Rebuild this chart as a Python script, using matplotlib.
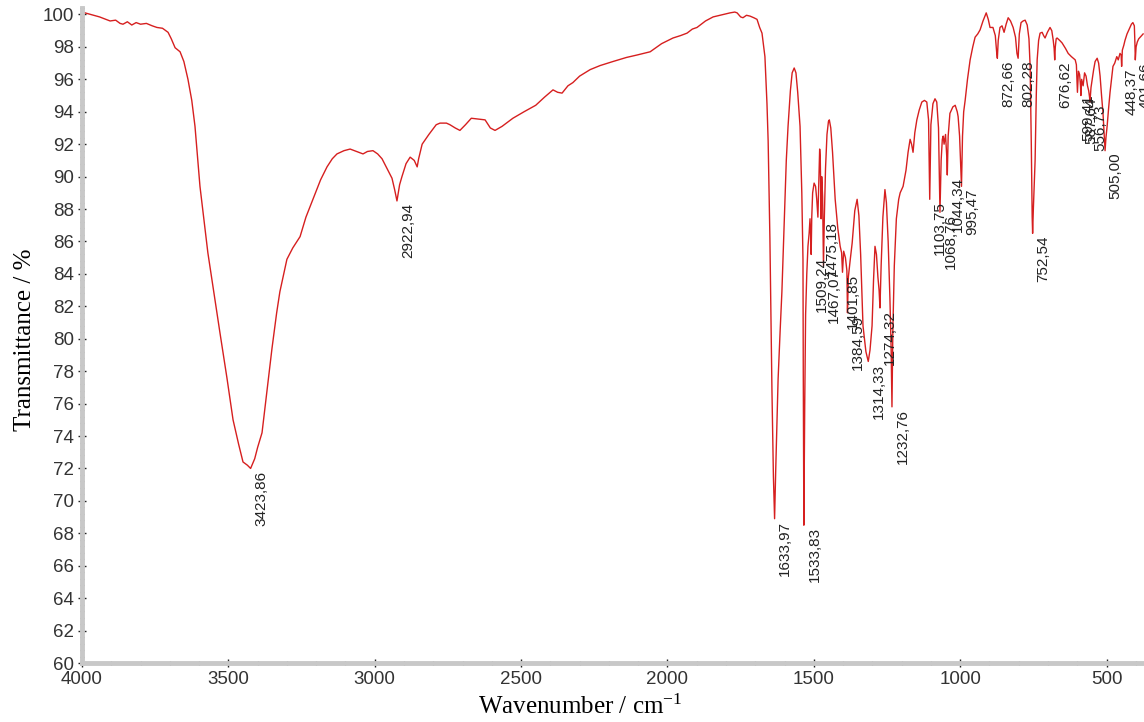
import numpy as np
import matplotlib.pyplot as plt
from matplotlib.ticker import MultipleLocator

# spectrum (wavenumber / cm-1, transmittance / %)
wavenumber = [
    4000, 3970, 3940, 3904, 3885, 3870, 3860, 3845, 3830, 3815, 3800, 3780, 3760, 3744, 3725,
    3706, 3695, 3682, 3665, 3652, 3638, 3625, 3614, 3597, 3570, 3550, 3529, 3505, 3484, 3465,
    3450, 3435, 3424, 3410, 3400, 3385, 3370, 3351, 3335, 3324, 3300, 3280, 3255, 3235, 3211,
    3185, 3163, 3145, 3129, 3105, 3084, 3062, 3040, 3025, 3006, 2990, 2975, 2955, 2941, 2932,
    2924, 2915, 2907, 2893, 2879, 2865, 2855, 2850, 2838, 2815, 2790, 2777, 2755, 2743, 2725,
    2709, 2690, 2670, 2645, 2623, 2605, 2589, 2565, 2528, 2490, 2450, 2420, 2391, 2375, 2360,
    2340, 2323, 2300, 2264, 2230, 2186, 2140, 2104, 2059, 2020, 1981, 1955, 1933, 1915, 1899,
    1870, 1844, 1810, 1786, 1770, 1762, 1750, 1742, 1730, 1718, 1705, 1694, 1685, 1677, 1667,
    1660, 1656, 1650, 1643, 1638, 1634, 1630, 1622, 1615, 1609, 1600, 1594, 1588, 1580, 1574,
    1567, 1561, 1555, 1547, 1541, 1537, 1536, 1534, 1531, 1528, 1524, 1520, 1516, 1513, 1511,
    1509, 1507, 1504, 1499, 1494, 1490, 1486, 1483, 1480, 1478, 1476, 1475, 1473, 1470, 1467,
    1464, 1460, 1455, 1450, 1447, 1442, 1436, 1427, 1418, 1410, 1405, 1402, 1398, 1392, 1387,
    1385, 1382, 1376, 1369, 1360, 1352, 1346, 1340, 1332, 1322, 1314, 1308, 1301, 1296, 1291,
    1286, 1281, 1277, 1274, 1270, 1264, 1257, 1252, 1246, 1240, 1236, 1233, 1230, 1225, 1218,
    1210, 1205, 1195, 1185, 1178, 1171, 1166, 1161, 1155, 1148, 1140, 1131, 1122, 1114, 1108,
    1104, 1100, 1093, 1086, 1080, 1074, 1069, 1065, 1061, 1058, 1055, 1050, 1046, 1044, 1041,
    1035, 1025, 1017, 1010, 1007, 1002, 998, 995.5, 992, 988, 983, 975, 966, 957, 949,
    940, 932, 922, 911, 904, 898, 888, 880, 875, 873, 870, 864, 857, 850, 843,
    836, 828, 819, 811, 806, 802, 798, 792, 785, 778, 771, 765, 761, 757, 754,
    752.5, 750, 747, 744, 740, 737, 732, 727, 720, 715, 710, 702, 693, 687, 682,
    679, 677, 675, 672, 669, 660, 652, 640, 631, 620, 607, 603, 601, 599.4, 596,
    592, 589, 587.6, 585, 580, 575, 570, 565, 561, 558, 556.7, 553, 549, 544, 539,
    532, 527, 522, 517, 512, 508, 505, 502, 498, 493, 488, 483, 478, 472, 465,
    460, 454, 450, 448.4, 446, 441, 437, 430, 425, 420, 415, 410, 405, 403, 401.7,
    399, 395, 390, 380, 375]
transmittance = [
    100.15, 100.0, 99.85, 99.6, 99.65, 99.45, 99.4, 99.55, 99.35, 99.5, 99.4, 99.45, 99.3, 99.2, 99.15,
    98.9, 98.5, 97.95, 97.7, 97.1, 96.0, 94.7, 93.1, 89.4, 85.3, 82.9, 80.4, 77.6, 75.0, 73.5,
    72.4, 72.2, 72.0, 72.6, 73.3, 74.2, 76.5, 79.4, 81.6, 82.9, 84.9, 85.6, 86.3, 87.5, 88.6,
    89.8, 90.6, 91.1, 91.4, 91.6, 91.7, 91.55, 91.4, 91.55, 91.6, 91.4, 91.1, 90.4, 89.9, 89.2,
    88.5, 89.5, 90.0, 90.8, 91.2, 91.0, 90.6, 91.1, 92.0, 92.6, 93.2, 93.3, 93.3, 93.2, 93.0,
    92.85, 93.2, 93.6, 93.55, 93.5, 93.0, 92.85, 93.1, 93.6, 94.0, 94.4, 94.9, 95.35, 95.2, 95.15,
    95.6, 95.8, 96.2, 96.6, 96.85, 97.1, 97.35, 97.5, 97.7, 98.2, 98.55, 98.7, 98.85, 99.1, 99.2,
    99.6, 99.85, 100.0, 100.1, 100.15, 100.1, 99.85, 99.8, 99.95, 99.9, 99.8, 99.7, 99.2, 98.85, 97.4,
    94.5, 92.2, 86.2, 76.8, 71.5, 68.9, 72.0, 77.5, 80.5, 82.9, 87.8, 91.0, 93.1, 95.3, 96.4,
    96.7, 96.4, 95.2, 93.1, 89.0, 84.9, 78.0, 68.5, 76.0, 81.5, 84.0, 85.7, 86.5, 87.4, 86.5,
    85.2, 87.5, 89.0, 89.6, 89.4, 88.6, 87.5, 89.5, 91.7, 91.2, 88.5, 87.4, 90.0, 88.8, 84.5,
    87.5, 90.5, 92.6, 93.4, 93.5, 93.0, 91.5, 88.6, 86.8, 85.7, 85.3, 84.1, 85.4, 85.0, 84.2,
    81.6, 83.8, 84.8, 85.9, 87.9, 88.6, 87.6, 85.2, 80.8, 79.2, 78.6, 79.3, 80.8, 83.6, 85.7,
    85.2, 83.8, 83.0, 81.9, 84.5, 87.5, 89.2, 88.4, 86.0, 82.5, 79.5, 75.8, 80.5, 84.5, 87.4,
    88.6, 89.0, 89.4, 90.4, 91.5, 92.3, 92.0, 91.5, 92.7, 93.5, 94.1, 94.6, 94.7, 94.6, 93.5,
    88.6, 93.2, 94.5, 94.8, 94.6, 93.0, 87.8, 91.0, 92.3, 92.5, 92.0, 92.6, 91.3, 90.1, 92.5,
    93.9, 94.3, 94.4, 94.0, 93.7, 92.5, 90.5, 89.4, 92.5, 94.0, 94.7, 96.0, 97.2, 98.0, 98.6,
    98.8, 99.05, 99.6, 100.1, 99.7, 99.2, 99.2, 98.7, 97.6, 97.3, 98.4, 99.2, 99.3, 98.9, 99.4,
    99.8, 99.6, 99.2, 98.6, 97.6, 97.3, 98.8, 99.5, 99.6, 99.65, 99.35, 98.5, 96.8, 92.0, 87.5,
    86.5, 88.0, 89.5, 91.0, 95.0, 97.2, 98.4, 98.85, 98.9, 98.7, 98.55, 98.9, 99.2, 99.0, 98.4,
    97.9, 97.2, 98.0, 98.5, 98.55, 98.4, 98.25, 97.9, 97.6, 97.4, 97.2, 96.9, 96.0, 95.2, 96.5,
    96.3, 95.6, 95.0, 96.0, 95.6, 96.4, 96.2, 95.6, 95.3, 94.9, 94.6, 95.5, 96.0, 96.6, 97.1,
    97.3, 97.0, 96.2, 95.0, 93.9, 92.6, 91.6, 92.4, 93.1, 94.2, 95.2, 96.0, 96.8, 97.0, 97.4,
    97.2, 97.6, 97.5, 96.8, 97.8, 98.1, 98.4, 98.8, 99.0, 99.2, 99.4, 99.5, 99.3, 98.2, 97.2,
    98.0, 98.3, 98.5, 98.7, 98.8]

# picked peaks
peak_wn = [3423.86, 2922.94, 1633.97, 1533.83, 1509.24, 1475.18, 1467.07, 1401.85,
           1384.59, 1314.33, 1274.32, 1232.76, 1103.75, 1068.76, 1044.34, 995.47,
           872.66, 802.28, 752.54, 676.62, 599.41, 587.64, 556.73, 505.00, 448.37, 401.66]
peak_t = [72.0, 88.5, 68.9, 68.5, 85.2, 87.4, 84.5, 84.1,
          81.6, 78.6, 81.9, 75.8, 88.6, 87.8, 90.1, 89.4,
          97.3, 97.3, 86.5, 97.2, 95.2, 95.0, 94.6, 91.6, 96.8, 97.2]

W, H = 1144, 722
fig = plt.figure(figsize=(W / 100, H / 100), dpi=100)
ax = fig.add_axes([82 / W, 59 / H, 1062 / W, 655 / H])

ax.plot(wavenumber, transmittance, color='#d61f1f', lw=1.0)
ax.set_xlim(4000, 372)
ax.set_ylim(60, 100.4)

for s in ['top', 'right']:
    ax.spines[s].set_visible(False)
for s in ['left', 'bottom']:
    ax.spines[s].set_color('#c8c8c8')
    ax.spines[s].set_linewidth(3.5)

ax.xaxis.set_major_locator(MultipleLocator(500))
ax.xaxis.set_minor_locator(MultipleLocator(100))
ax.yaxis.set_major_locator(MultipleLocator(2))
ax.yaxis.set_minor_locator(MultipleLocator(0.4))
ax.tick_params(which='major', direction='inout', length=6, width=1, color='#222222',
               labelsize=13.5, labelcolor='#333333', pad=3)
ax.tick_params(which='minor', direction='inout', length=2.5, width=1, color='#222222')
for lab in ax.get_xticklabels() + ax.get_yticklabels():
    lab.set_family(['Liberation Sans Narrow', 'Liberation Sans'])

for w, t in zip(peak_wn, peak_t):
    ax.annotate(('%.2f' % w).replace('.', ','), xy=(w, t), xytext=(2.5, -1.5),
                textcoords='offset points', rotation=90, ha='left', va='top',
                fontsize=11, family='Liberation Sans', color='#222222')

plt.rcParams['mathtext.default'] = 'regular'
fig.text(25 / W, 1 - 340 / H, 'Transmittance / %', rotation=90, ha='center', va='center',
         family='Liberation Serif', fontsize=18)
fig.text(580 / W, 1 - 707 / H, r'Wavenumber / cm$^{-1}$', ha='center', va='center',
         family='Liberation Serif', fontsize=18)

fig.savefig('out.png', dpi=100)
